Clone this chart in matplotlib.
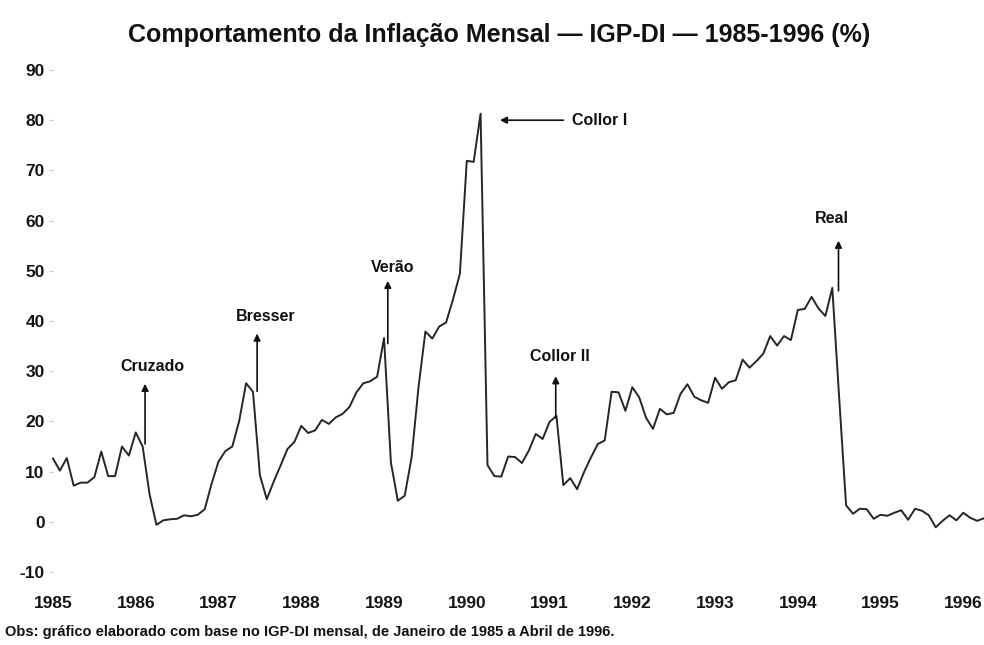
import matplotlib
matplotlib.use('Agg')
import matplotlib.pyplot as plt
import numpy as np

# IGP-DI mensal (%), jan/1985 a abr/1996
igp_1985 = [12.6, 10.2, 12.7, 7.2, 7.8, 7.8, 8.9, 14.0, 9.1, 9.1, 15.0, 13.2]
igp_1986 = [17.8, 15.0, 5.5, -0.6, 0.3, 0.5, 0.6, 1.3, 1.1, 1.4, 2.5, 7.6]
igp_1987 = [12.0, 14.1, 15.0, 20.1, 27.6, 25.9, 9.3, 4.5, 8.0, 11.2, 14.5, 15.9]
igp_1988 = [19.1, 17.7, 18.2, 20.3, 19.5, 20.8, 21.5, 22.9, 25.8, 27.6, 28.0, 28.9]
igp_1989 = [36.6, 11.8, 4.2, 5.2, 12.8, 26.8, 37.9, 36.5, 38.9, 39.7, 44.3, 49.4]
igp_1990 = [71.9, 71.7, 81.3, 11.3, 9.1, 9.0, 13.0, 12.9, 11.7, 14.2, 17.5, 16.5]
igp_1991 = [19.9, 21.1, 7.3, 8.7, 6.5, 9.9, 12.8, 15.5, 16.2, 25.9, 25.8, 22.1]
igp_1992 = [26.8, 24.8, 20.7, 18.5, 22.5, 21.4, 21.7, 25.5, 27.4, 24.9, 24.2, 23.7]
igp_1993 = [28.7, 26.5, 27.8, 28.2, 32.3, 30.7, 32.0, 33.5, 37.0, 35.1, 37.0, 36.2]
igp_1994 = [42.2, 42.4, 44.8, 42.5, 41.0, 46.6, 24.7, 3.3, 1.6, 2.6, 2.5, 0.6]
igp_1995 = [1.4, 1.2, 1.8, 2.3, 0.4, 2.6, 2.2, 1.3, -1.1, 0.2, 1.3, 0.3]
igp_1996 = [1.8, 0.8, 0.2, 0.7]

anos = list(range(1985, 1997))

# planos economicos: (texto, mes da seta, base, topo, x texto, y texto)
planos = [
    ('Cruzado', 13.35, 15.5, 27.5, 14.4, 31.0),
    ('Bresser', 29.6, 26.0, 37.5, 30.9, 40.8),
    ('Verão', 48.55, 35.5, 48.0, 49.3, 50.6),
    ('Collor II', 72.9, 20.7, 29.0, 73.5, 33.0),
    ('Real', 113.9, 46.0, 56.0, 113.0, 60.5),
]

serie = (igp_1985 + igp_1986 + igp_1987 + igp_1988 + igp_1989 + igp_1990 +
         igp_1991 + igp_1992 + igp_1993 + igp_1994 + igp_1995 + igp_1996)
meses = np.arange(len(serie))

plt.rcParams['font.family'] = ['Liberation Sans', 'DejaVu Sans']
plt.rcParams['font.weight'] = 'bold'
plt.rcParams['axes.unicode_minus'] = False

fig = plt.figure(figsize=(9.84, 6.45), dpi=100)
ax = fig.add_axes([53 / 984, 73 / 645, 931 / 984, 502 / 645])

ax.plot(meses, serie, color='#262626', lw=1.4, clip_on=False)

ax.set_xlim(0, 135)
ax.set_ylim(-10, 90)
ax.set_yticks(range(-10, 91, 10))
ax.set_xticks([12 * i for i in range(len(anos))])
ax.set_xticklabels([str(a) for a in anos])
for s in ax.spines.values():
    s.set_visible(False)
ax.tick_params(axis='x', length=0, pad=17, labelsize=12.5, labelcolor='#151515')
ax.tick_params(axis='y', length=3, width=0.8, color='#c8c8c8', pad=3,
               labelsize=12.5, labelcolor='#151515')

seta = dict(arrowstyle='-|>', color='#111111', lw=1.2, mutation_scale=10,
            shrinkA=0, shrinkB=0)
for nome, xs, base, topo, xt, yt in planos:
    ax.annotate('', xy=(xs, topo), xytext=(xs, base), arrowprops=seta)
    ax.text(xt, yt, nome, ha='center', va='center', fontsize=11.5,
            fontweight='bold', color='#111111')

# Collor I: seta horizontal
ax.annotate('', xy=(64.8, 80), xytext=(74.0, 80), arrowprops=seta)
ax.text(75.3, 80, 'Collor I', ha='left', va='center', fontsize=11.5,
        fontweight='bold', color='#111111')

fig.text(499 / 984, 1 - 35 / 645,
         'Comportamento da Inflação Mensal — IGP-DI — 1985-1996 (%)',
         ha='center', va='center', fontsize=18, fontweight='bold', color='#111111')
fig.text(5 / 984, 1 - 632 / 645,
         'Obs: gráfico elaborado com base no IGP-DI mensal, de Janeiro de 1985 a Abril de 1996.',
         ha='left', va='center', fontsize=10.5, fontweight='bold', color='#111111')

fig.savefig('out.png', dpi=100)
